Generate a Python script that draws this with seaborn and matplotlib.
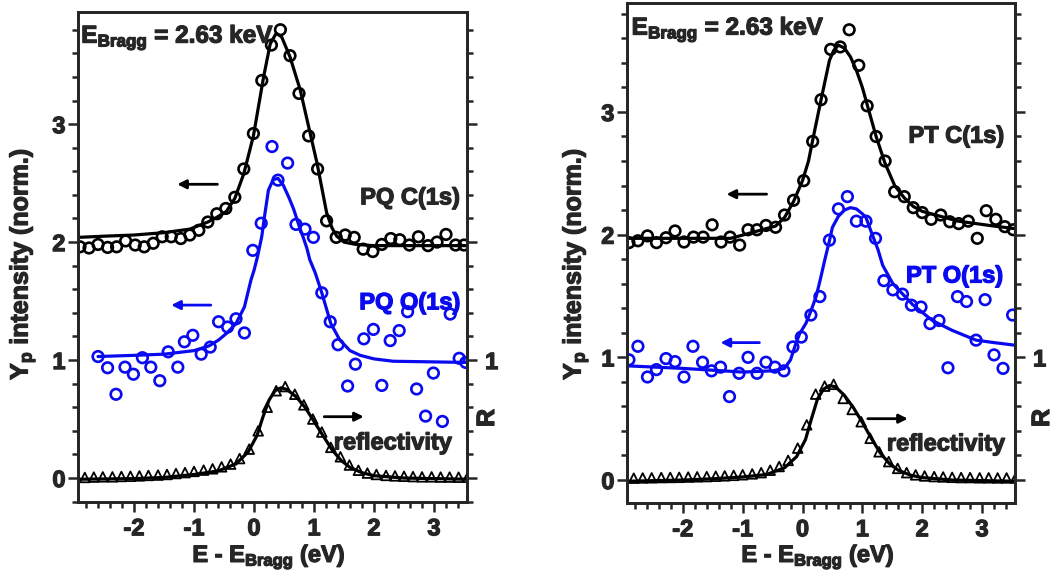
import numpy as np
import pandas as pd
import seaborn as sns
import matplotlib.pyplot as plt
import matplotlib.patheffects as pe
from matplotlib.ticker import MultipleLocator

sns.set_style("ticks")
plt.rcParams['font.family'] = ['Liberation Sans', 'DejaVu Sans']
plt.rcParams['font.weight'] = 'bold'
plt.rcParams['axes.unicode_minus'] = False
plt.rcParams['mathtext.fontset'] = 'custom'
plt.rcParams['mathtext.rm'] = 'Liberation Sans:bold'
plt.rcParams['mathtext.bf'] = 'Liberation Sans:bold'
plt.rcParams['mathtext.it'] = 'Liberation Sans:bold'

BLUE = '#0a0af0'

# ---- left panel (PQ) ----
pq_c_x = [-2.90, -2.75, -2.60, -2.44, -2.29, -2.14, -1.98, -1.83, -1.68, -1.53, -1.38, -1.22, -1.07, -0.92,
          -0.77, -0.62, -0.47, -0.32, -0.17, -0.01, 0.13, 0.29, 0.44, 0.60, 0.75, 0.91, 1.06, 1.21, 1.37, 1.52,
          1.67, 1.82, 1.98, 2.13, 2.28, 2.43, 2.59, 2.74, 2.90, 3.05, 3.20, 3.36, 3.50]
pq_c_y = [1.96, 1.95, 1.98, 1.955, 1.96, 2.01, 1.975, 1.96, 1.99, 2.045, 2.045, 2.03, 2.06, 2.10, 2.17, 2.24,
          2.285, 2.38, 2.62, 2.92, 3.37, 3.67, 3.80, 3.58, 3.26, 2.90, 2.62, 2.18, 2.04, 2.06, 2.04, 1.94,
          1.92, 1.98, 2.03, 2.02, 1.975, 2.045, 1.97, 2.00, 2.065, 1.975, 1.975]
pq_o_x = [-2.60, -2.44, -2.30, -2.15, -2.01, -1.86, -1.72, -1.57, -1.43, -1.27, -1.16, -1.02, -0.88, -0.73,
          -0.59, -0.44, -0.30, -0.16, -0.02, 0.12, 0.30, 0.40, 0.56, 0.70, 0.85, 0.99, 1.13, 1.27, 1.40, 1.56,
          1.69, 1.83, 1.99, 2.13, 2.27, 2.42, 2.56, 2.71, 2.86, 2.99, 3.14, 3.27, 3.42, 3.53]
pq_o_y = [1.03, 0.935, 0.71, 0.94, 0.88, 1.02, 0.94, 0.825, 1.07, 0.94, 1.155, 1.21, 1.05, 1.11, 1.325, 1.28,
          1.35, 1.23, 1.93, 2.16, 2.81, 2.525, 2.67, 2.15, 2.11, 2.04, 1.57, 1.325, 1.13, 0.78, 0.965, 1.18,
          1.26, 0.785, 1.165, 1.25, 1.41, 0.755, 0.525, 0.89, 0.48, 1.39, 1.015, 0.98]
pq_c_fit_x = [-2.93, -2.5, -2.0, -1.5, -1.07, -0.77, -0.62, -0.46, -0.32, -0.17, -0.01, 0.16, 0.27, 0.37, 0.46,
              0.60, 0.77, 0.91, 1.05, 1.21, 1.30, 1.38, 1.50, 1.70, 2.0, 3.55]
pq_c_fit_y = [2.04, 2.05, 2.06, 2.08, 2.11, 2.17, 2.21, 2.26, 2.37, 2.58, 2.90, 3.40, 3.68, 3.77, 3.74,
              3.57, 3.29, 2.98, 2.67, 2.25, 2.12, 2.05, 2.00, 1.98, 1.97, 1.97]
pq_o_fit_x = [-2.60, -2.0, -1.5, -1.0, -0.75, -0.59, -0.45, -0.30, -0.16, -0.05, 0.0, 0.06, 0.13, 0.17, 0.24,
              0.32, 0.40, 0.49, 0.58, 0.66, 0.75, 0.82, 0.88, 0.93, 1.02, 1.13, 1.28, 1.43, 1.60, 1.77, 2.0,
              2.32, 3.55]
pq_o_fit_y = [1.03, 1.04, 1.05, 1.08, 1.12, 1.17, 1.23, 1.31, 1.45, 1.68, 1.76, 1.88, 2.05, 2.20, 2.44,
              2.53, 2.54, 2.48, 2.38, 2.28, 2.14, 2.04, 1.95, 1.85, 1.74, 1.57, 1.31, 1.17, 1.08, 1.04, 1.01,
              0.99, 0.98]

# ---- right panel (PT) ----
pt_c_x = [-2.90, -2.75, -2.59, -2.44, -2.28, -2.13, -1.98, -1.82, -1.66, -1.51, -1.36, -1.21, -1.05, -0.91,
          -0.76, -0.61, -0.45, -0.30, -0.15, 0.02, 0.17, 0.31, 0.47, 0.63, 0.78, 0.94, 1.08, 1.23, 1.38, 1.54,
          1.70, 1.85, 2.00, 2.15, 2.31, 2.46, 2.61, 2.77, 2.92, 3.07, 3.23, 3.38, 3.52]
pt_c_y = [1.935, 1.95, 1.99, 1.935, 1.975, 2.03, 1.94, 1.98, 1.98, 2.08, 1.94, 1.98, 1.915, 2.04, 2.04, 2.075,
          2.06, 2.16, 2.28, 2.44, 2.76, 3.10, 3.51, 3.53, 3.67, 3.38, 3.05, 2.80, 2.60, 2.35, 2.31, 2.22,
          2.18, 2.125, 2.16, 2.105, 2.09, 2.11, 1.97, 2.195, 2.125, 2.065, 2.04]
pt_o_x = [-2.90, -2.75, -2.59, -2.44, -2.28, -2.13, -1.98, -1.83, -1.67, -1.52, -1.37, -1.22, -1.06, -0.91,
          -0.76, -0.61, -0.46, -0.31, -0.16, -0.02, 0.14, 0.29, 0.45, 0.60, 0.75, 0.90, 1.06, 1.22, 1.36, 1.51,
          1.67, 1.82, 1.98, 2.13, 2.28, 2.43, 2.59, 2.74, 2.90, 3.05, 3.20, 3.35, 3.51]
pt_o_y = [0.98, 1.09, 0.84, 0.90, 0.99, 0.965, 0.84, 1.09, 0.96, 0.89, 0.92, 0.68, 0.87, 1.00, 0.87, 0.96,
          0.92, 0.89, 1.085, 1.165, 1.345, 1.495, 1.955, 2.21, 2.31, 2.11, 2.11, 1.97, 1.625, 1.55, 1.515,
          1.425, 1.41, 1.275, 1.30, 0.915, 1.495, 1.455, 1.14, 1.47, 1.02, 0.91, 1.345]
pt_c_fit_x = [-2.93, -2.0, -1.2, -0.9, -0.6, -0.45, -0.30, -0.15, 0.0, 0.10, 0.17, 0.31, 0.45, 0.52, 0.60,
              0.70, 0.80, 0.90, 1.00, 1.08, 1.23, 1.38, 1.54, 1.70, 1.85, 2.0, 2.3, 2.6, 2.9, 3.2, 3.53]
pt_c_fit_y = [1.97, 1.97, 1.97, 2.01, 2.05, 2.07, 2.14, 2.27, 2.44, 2.60, 2.77, 3.10, 3.42, 3.50, 3.545,
              3.52, 3.45, 3.34, 3.20, 3.06, 2.80, 2.58, 2.40, 2.30, 2.23, 2.19, 2.15, 2.11, 2.09, 2.07, 2.05]
pt_o_fit_x = [-2.90, -2.0, -1.0, -0.5, -0.30, -0.20, -0.12, -0.05, 0.06, 0.15, 0.23, 0.30, 0.37, 0.41, 0.45,
              0.50, 0.60, 0.70, 0.80, 0.90, 1.00, 1.06, 1.15, 1.26, 1.34, 1.51, 1.84, 2.17, 2.5, 2.9, 3.2, 3.53]
pt_o_fit_y = [0.93, 0.91, 0.88, 0.89, 0.91, 0.98, 1.10, 1.19, 1.28, 1.39, 1.50, 1.64, 1.79, 1.87, 1.95,
              2.06, 2.15, 2.20, 2.22, 2.21, 2.17, 2.14, 2.02, 1.88, 1.75, 1.60, 1.43, 1.30, 1.22, 1.14, 1.12,
              1.10]

# ---- reflectivity (both panels) ----
refl_x = [-2.82, -2.67, -2.52, -2.36, -2.21, -2.06, -1.91, -1.76, -1.60, -1.45, -1.30, -1.15, -1.00, -0.84,
          -0.69, -0.54, -0.39, -0.24, -0.08, 0.07, 0.22, 0.37, 0.52, 0.68, 0.83, 0.98, 1.13, 1.28, 1.44, 1.59,
          1.74, 1.89, 2.04, 2.20, 2.35, 2.50, 2.65, 2.80, 2.96, 3.11, 3.26, 3.41, 3.56]
pq_refl = [0.005, 0.008, 0.01, 0.01, 0.013, 0.015, 0.018, 0.022, 0.025, 0.03, 0.038, 0.046, 0.056, 0.067,
           0.078, 0.095, 0.118, 0.165, 0.245, 0.40, 0.60, 0.74, 0.775, 0.71, 0.62, 0.50, 0.39, 0.26, 0.18,
           0.11, 0.066, 0.042, 0.03, 0.022, 0.018, 0.015, 0.012, 0.01, 0.01, 0.008, 0.008, 0.007, 0.007]
pt_refl = [0.015, 0.017, 0.018, 0.02, 0.021, 0.022, 0.024, 0.026, 0.028, 0.031, 0.034, 0.038, 0.043, 0.05,
           0.06, 0.08, 0.11, 0.16, 0.26, 0.45, 0.70, 0.765, 0.78, 0.665, 0.575, 0.475, 0.34, 0.23, 0.15,
           0.095, 0.06, 0.042, 0.033, 0.028, 0.025, 0.022, 0.02, 0.02, 0.018, 0.018, 0.017, 0.017, 0.016]
refl_fit_x = [-2.93, -2.0, -1.5, -1.0, -0.6, -0.3, -0.1, 0.05, 0.15, 0.25, 0.35, 0.45, 0.55, 0.70, 0.85,
              1.0, 1.15, 1.3, 1.45, 1.6, 1.8, 2.0, 2.5, 3.55]
pq_refl_fit = [-0.01, -0.005, 0.005, 0.03, 0.06, 0.12, 0.22, 0.36, 0.52, 0.66, 0.74, 0.765, 0.75, 0.69,
               0.60, 0.48, 0.36, 0.24, 0.15, 0.09, 0.045, 0.02, 0.0, -0.01]
pt_refl_fit = [-0.01, 0.0, 0.01, 0.025, 0.045, 0.10, 0.19, 0.33, 0.50, 0.66, 0.74, 0.77, 0.76, 0.69,
               0.59, 0.47, 0.34, 0.22, 0.135, 0.08, 0.04, 0.02, 0.0, -0.01]


def thicken(t):
    # the reference lettering is heavier than a plain bold face
    t.set_path_effects([pe.withStroke(linewidth=0.9, foreground=t.get_color())])
    return t


def draw_panel(ax, c_x, c_y, o_x, o_y, r_y, c_fx, c_fy, o_fx, o_fy, r_fy, ylim, name, txt):
    ax.set_xlim(-2.933, 3.55)
    ax.set_ylim(*ylim)
    circ = dict(marker='o', s=58, facecolors='none', linewidth=1.9, zorder=2, legend=False)
    sns.scatterplot(x=c_x, y=c_y, ax=ax, edgecolor='black', **circ)
    sns.scatterplot(x=o_x, y=o_y, ax=ax, edgecolor=BLUE, **circ)
    sns.scatterplot(x=refl_x, y=r_y, ax=ax, marker='^', s=48, facecolors='none', edgecolor='black',
                    linewidth=1.3, zorder=2, legend=False)
    sns.lineplot(x=c_fx, y=c_fy, ax=ax, color='black', lw=2.3, zorder=3, sort=False)
    sns.lineplot(x=o_fx, y=o_fy, ax=ax, color=BLUE, lw=2.3, zorder=3, sort=False)
    sns.lineplot(x=refl_fit_x, y=r_fy, ax=ax, color='black', lw=2.3, zorder=3, sort=False)

    fs = 17
    thicken(ax.text(txt['e'][0], txt['e'][1], r'E$_{\rm Bragg}$ = 2.63 keV', fontsize=17.5,
                    fontweight='bold', va='baseline', ha='left'))
    thicken(ax.text(txt['c'][0], txt['c'][1], name + ' C(1s)', fontsize=fs, fontweight='bold',
                    va='baseline'))
    thicken(ax.text(txt['o'][0], txt['o'][1], name + ' O(1s)', fontsize=fs, fontweight='bold',
                    va='baseline', color=BLUE))
    thicken(ax.text(txt['r'][0], txt['r'][1], 'reflectivity', fontsize=fs, fontweight='bold',
                    va='baseline'))
    arr = dict(arrowstyle='-|>', lw=2.0, mutation_scale=13, shrinkA=0, shrinkB=0)
    for key, col in (('ac', 'black'), ('ao', BLUE), ('ar', 'black')):
        (x0, x1, y) = txt[key]
        ax.annotate('', xy=(x0, y), xytext=(x1, y), arrowprops=dict(color=col, **arr))

    ax.set_xticks([-2, -1, 0, 1, 2, 3])
    ax.xaxis.set_minor_locator(MultipleLocator(0.2))
    ax.set_yticks([0, 1, 2, 3])
    ax.yaxis.set_minor_locator(MultipleLocator(0.2))
    ax.tick_params(which='both', direction='out', width=1.8, labelsize=17, top=False, right=False)
    ax.tick_params(which='major', length=7)
    ax.tick_params(which='minor', length=4.5)
    ax.tick_params(axis='x', pad=4)
    ax.tick_params(axis='y', pad=2)
    for sp in ax.spines.values():
        sp.set_linewidth(2.0)
        sp.set_visible(True)
    ax.set_xlabel('')
    ax.set_ylabel('')
    for lab in ax.get_xticklabels() + ax.get_yticklabels():
        thicken(lab)

    rax = ax.twinx()
    rax.set_ylim(*ylim)
    rax.set_yticks([0, 1, 2, 3], labels=['', '1', '', ''])
    rax.yaxis.set_minor_locator(MultipleLocator(0.2))
    rax.tick_params(which='both', direction='out', width=1.8, labelsize=17, pad=6)
    rax.tick_params(which='major', length=7)
    rax.tick_params(which='minor', length=4.5)
    for sp in rax.spines.values():
        sp.set_linewidth(2.0)
    for lab in rax.get_yticklabels():
        thicken(lab)
    return rax


fig = plt.figure(figsize=(10.53, 5.79), dpi=100)
ax1 = fig.add_axes([0.0741, 0.133, 0.3694, 0.846])
ax2 = fig.add_axes([0.5954, 0.1313, 0.3685, 0.8635])

pq_txt = {'e': (-2.88, 3.69), 'c': (1.77, 2.32), 'o': (1.755, 1.43), 'r': (1.33, 0.243),
          'ac': (-1.28, -0.61, 2.49), 'ao': (-1.38, -0.72, 1.466), 'ar': (1.83, 1.17, 0.52)}
pt_txt = {'e': (-2.855, 3.63), 'c': (1.77, 2.75), 'o': (1.73, 1.61), 'r': (1.41, 0.24),
          'ac': (-1.27, -0.60, 2.33), 'ao': (-1.37, -0.72, 1.12), 'ar': (1.76, 1.09, 0.50)}

draw_panel(ax1, pq_c_x, pq_c_y, pq_o_x, pq_o_y, pq_refl, pq_c_fit_x, pq_c_fit_y, pq_o_fit_x, pq_o_fit_y,
           pq_refl_fit, (-0.203, 3.949), 'PQ', pq_txt)
draw_panel(ax2, pt_c_x, pt_c_y, pt_o_x, pt_o_y, pt_refl, pt_c_fit_x, pt_c_fit_y, pt_o_fit_x, pt_o_fit_y,
           pt_refl_fit, (-0.187, 3.888), 'PT', pt_txt)

for cx, rx in ((22, 487), (575, 1042)):
    thicken(fig.text(cx / 1053, 1 - 264 / 579, r'Y$_{\rm p}$ intensity (norm.)', rotation=90,
                     ha='center', va='center', fontsize=18, fontweight='bold'))
    thicken(fig.text(rx / 1053, 1 - 418 / 579, 'R', rotation=90, ha='center', va='center',
                     fontsize=18, fontweight='bold'))
for cx in (269, 818):
    thicken(fig.text(cx / 1053, 1 - 562 / 579, r'E - E$_{\rm Bragg}$ (eV)', ha='center',
                     va='baseline', fontsize=17, fontweight='bold'))

fig.savefig('out.png', dpi=100)
